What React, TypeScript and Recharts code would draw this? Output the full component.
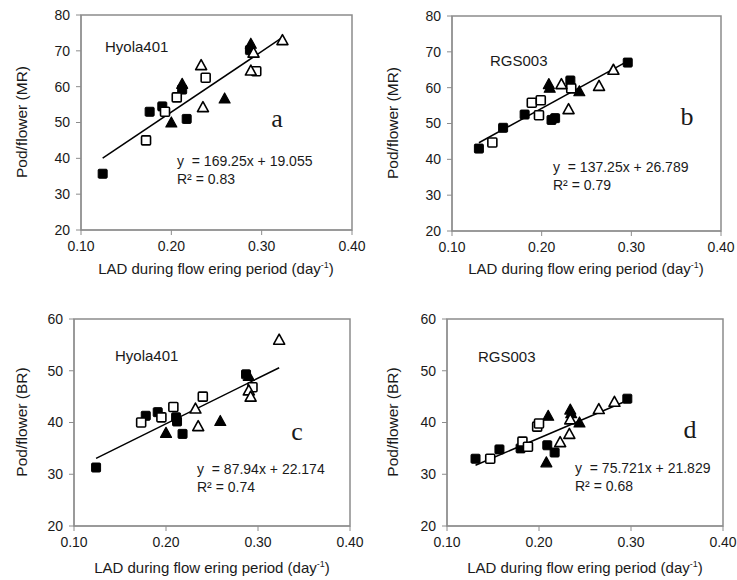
import React from 'react';
import { ScatterChart, Scatter, XAxis, YAxis, ReferenceLine, ReferenceArea } from 'recharts';

// LAD (x) vs pod/flower (y)
const aFilledSq = [[0.124, 35.7], [0.176, 53], [0.19, 54.5], [0.212, 59.2], [0.217, 51], [0.287, 70.2]];
const aOpenSq = [[0.172, 45], [0.193, 53], [0.206, 57], [0.238, 62.5], [0.294, 64.3]];
const aFilledTri = [[0.2, 50], [0.212, 60.8], [0.259, 56.7], [0.288, 72]];
const aOpenTri = [[0.233, 66], [0.235, 54.3], [0.291, 69.5], [0.288, 64.5], [0.323, 73]];

const bFilledSq = [[0.13, 43], [0.157, 48.8], [0.181, 52.5], [0.211, 51], [0.215, 51.5], [0.232, 62], [0.296, 67]];
const bOpenSq = [[0.145, 44.7], [0.189, 55.8], [0.199, 56.5], [0.197, 52.3], [0.233, 59.8]];
const bFilledTri = [[0.208, 61], [0.209, 60], [0.242, 59]];
const bOpenTri = [[0.222, 61], [0.23, 54], [0.264, 60.5], [0.28, 65]];

const cFilledSq = [[0.124, 31.3], [0.178, 41.3], [0.191, 42], [0.211, 41], [0.212, 40.2], [0.218, 37.8], [0.287, 49.3]];
const cOpenSq = [[0.173, 40], [0.195, 41], [0.208, 43], [0.24, 45], [0.294, 46.8]];
const cFilledTri = [[0.2, 38], [0.259, 40.3], [0.29, 49]];
const cOpenTri = [[0.232, 42.7], [0.235, 39.3], [0.29, 46.2], [0.292, 45], [0.323, 56]];

const dFilledSq = [[0.131, 33], [0.157, 34.8], [0.18, 35], [0.209, 35.6], [0.217, 34.2], [0.296, 44.6]];
const dOpenSq = [[0.147, 33], [0.182, 36.3], [0.188, 35.3], [0.198, 39.2], [0.2, 39.8]];
const dFilledTri = [[0.21, 41.3], [0.208, 32.3], [0.234, 42.5], [0.235, 41.8], [0.244, 40]];
const dOpenTri = [[0.223, 36.2], [0.233, 37.8], [0.234, 40.6], [0.265, 42.6], [0.282, 44]];

const cultivars = ['Hyola401', 'RGS003', 'Hyola401', 'RGS003'];
const panelLetters = ['a', 'b', 'c', 'd'];
const slopes = [169.25, 137.25, 87.94, 75.721];
const intercepts = [19.055, 26.789, 22.174, 21.829];
const r2 = ['0.83', '0.79', '0.74', '0.68'];
const yLabels = ['Pod/flower (MR)', 'Pod/flower (MR)', 'Pod/flower (BR)', 'Pod/flower (BR)'];
const xTicks = [0.1, 0.2, 0.3, 0.4];
const yTicksTop = [20, 30, 40, 50, 60, 70, 80];
const yTicksBottom = [20, 30, 40, 50, 60];

const FONT = '"Liberation Sans", Arial, sans-serif';
const AXIS = '#8c8c8c';
const INK = '#1a1a1a';
const YW = 40;
const XH = 30;

const toPts = (arr: number[][]) => arr.map(([x, y]) => ({ x, y }));

const square = (open: boolean) => (p: any) => (
  <rect x={p.cx - 4.5} y={p.cy - 4.5} width={9} height={9} rx={1} fill={open ? '#fff' : '#000'} stroke="#000" strokeWidth={open ? 1.6 : 1} />
);
const triangle = (open: boolean) => (p: any) => (
  <polygon
    points={`${p.cx},${p.cy - 5.5} ${p.cx + 5.5},${p.cy + 4.5} ${p.cx - 5.5},${p.cy + 4.5}`}
    fill={open ? '#fff' : '#000'}
    stroke="#000"
    strokeWidth={open ? 1.6 : 1.2}
    strokeLinejoin="round"
  />
);

const panels = [
  { box: [0, 0, 370, 300], plot: [81, 352, 15, 230], yDomain: [20, 80], yTicks: yTicksTop, sets: [aFilledSq, aOpenSq, aFilledTri, aOpenTri],
    yl: [22, 122], xt: [216, 268], name: [105, 46], letter: [277, 120], eq: [177, 161] },
  { box: [370, 0, 367, 300], plot: [452, 721, 16, 231], yDomain: [20, 80], yTicks: yTicksTop, sets: [bFilledSq, bOpenSq, bFilledTri, bOpenTri],
    yl: [393, 123], xt: [586, 268], name: [490, 60], letter: [687, 118], eq: [553, 167] },
  { box: [0, 290, 370, 290], plot: [74, 350, 319, 526], yDomain: [20, 60], yTicks: yTicksBottom, sets: [cFilledSq, cOpenSq, cFilledTri, cOpenTri],
    yl: [22, 422], xt: [212, 567], name: [115, 355], letter: [297, 433], eq: [197, 469] },
  { box: [370, 290, 367, 290], plot: [447, 723, 319, 526], yDomain: [20, 60], yTicks: yTicksBottom, sets: [dFilledSq, dOpenSq, dFilledTri, dOpenTri],
    yl: [393, 422], xt: [585, 567], name: [478, 356], letter: [690, 431], eq: [575, 468] },
];

const Panel: React.FC<{ cfg: any; i: number }> = ({ cfg, i }) => {
  const [bx, by, bw, bh] = cfg.box;
  const [x0, x1, y0, y1] = cfg.plot;
  const margin = { left: x0 - bx - YW, right: bx + bw - x1, top: y0 - by, bottom: by + bh - y1 - XH };
  const allX = cfg.sets.flat().map((p: number[]) => p[0]);
  const lo = Math.min(...allX);
  const hi = Math.max(...allX);
  const fit = (x: number) => slopes[i] * x + intercepts[i];
  const tick = { fill: INK, fontSize: 14, fontFamily: FONT };
  return (
    <div style={{ position: 'absolute', left: bx, top: by }}>
      <ScatterChart width={bw} height={bh} margin={margin}>
        <XAxis type="number" dataKey="x" domain={[0.1, 0.4]} ticks={xTicks} tickFormatter={(v) => v.toFixed(2)}
          height={XH} stroke={AXIS} tickSize={5} tickMargin={6} tick={tick} allowDataOverflow />
        <YAxis type="number" dataKey="y" domain={cfg.yDomain} ticks={cfg.yTicks} width={YW}
          stroke={AXIS} tickSize={5} tickMargin={6} tick={tick} allowDataOverflow />
        <ReferenceArea x1={0.1} x2={0.4} y1={cfg.yDomain[0]} y2={cfg.yDomain[1]} fill="none" stroke={AXIS} strokeWidth={1.5} />
        <ReferenceLine segment={[{ x: lo, y: fit(lo) }, { x: hi, y: fit(hi) }]} stroke="#000" strokeWidth={1.5} />
        <Scatter data={toPts(cfg.sets[0])} shape={square(false)} isAnimationActive={false} />
        <Scatter data={toPts(cfg.sets[2])} shape={triangle(false)} isAnimationActive={false} />
        <Scatter data={toPts(cfg.sets[1])} shape={square(true)} isAnimationActive={false} />
        <Scatter data={toPts(cfg.sets[3])} shape={triangle(true)} isAnimationActive={false} />
      </ScatterChart>
    </div>
  );
};

const txt: React.CSSProperties = { position: 'absolute', fontFamily: FONT, color: INK, whiteSpace: 'nowrap', lineHeight: 1 };

export default function App() {
  return (
    <div style={{ position: 'absolute', left: 0, top: 0, width: 737, height: 580, background: '#fff', overflow: 'hidden' }}>
      {panels.map((cfg, i) => (
        <React.Fragment key={i}>
          <Panel cfg={cfg} i={i} />
          <div style={{ ...txt, left: cfg.yl[0], top: cfg.yl[1], fontSize: 15.5, transform: 'translate(-50%,-50%) rotate(-90deg)' }}>{yLabels[i]}</div>
          <div style={{ ...txt, left: cfg.xt[0], top: cfg.xt[1], fontSize: 15, transform: 'translate(-50%,-50%)' }}>
            LAD during flow ering period (day<sup style={{ fontSize: 9 }}>-1</sup>)
          </div>
          <div style={{ ...txt, left: cfg.name[0], top: cfg.name[1], fontSize: 15, transform: 'translateY(-50%)' }}>{cultivars[i]}</div>
          <div style={{ ...txt, left: cfg.letter[0], top: cfg.letter[1], fontSize: 26, fontFamily: '"Liberation Serif", serif', transform: 'translate(-50%,-55%)' }}>{panelLetters[i]}</div>
          <div style={{ ...txt, left: cfg.eq[0], top: cfg.eq[1], fontSize: 14, transform: 'translateY(-50%)' }}>
            y&nbsp; = {slopes[i]}x + {intercepts[i]}
          </div>
          <div style={{ ...txt, left: cfg.eq[0], top: cfg.eq[1] + 18, fontSize: 14, transform: 'translateY(-50%)' }}>
            R² = {r2[i]}
          </div>
        </React.Fragment>
      ))}
    </div>
  );
}
